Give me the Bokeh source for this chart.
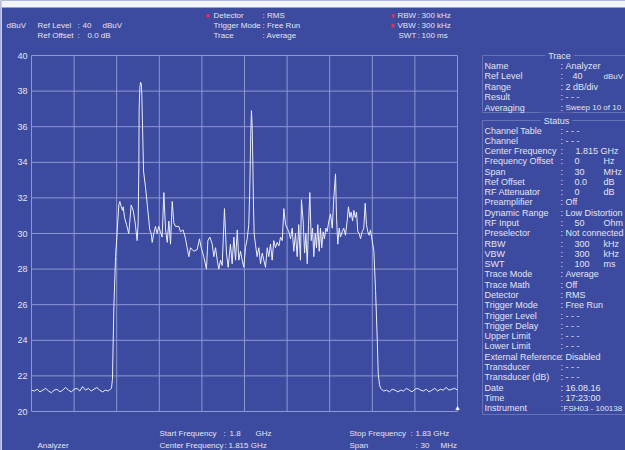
from bokeh.plotting import figure
from bokeh.models import Range1d, Label, PolyAnnotation
from bokeh.embed import file_html
from bokeh.resources import INLINE

# ---------------- measurement data ----------------
# noise floor below the channel (MHz, dBuV)
floor_lo_mhz = [1800.0, 1800.2, 1800.4, 1800.6, 1800.8, 1801.0, 1801.2, 1801.4, 1801.6, 1801.8,
                1802.0, 1802.2, 1802.4, 1802.6, 1802.8, 1803.0, 1803.2, 1803.4, 1803.6, 1803.8,
                1804.0, 1804.2, 1804.4, 1804.6, 1804.8, 1805.0, 1805.2, 1805.4]
floor_lo_dbuv = [21.2, 21.15, 21.25, 21.1, 21.2, 21.3, 21.15, 21.05, 21.2, 21.25,
                 21.1, 21.2, 21.35, 21.2, 21.1, 21.25, 21.3, 21.15, 21.4, 21.2,
                 21.3, 21.15, 21.25, 21.35, 21.2, 21.1, 21.2, 21.15]

# occupied channel (MHz, dBuV)
band_mhz = [1805.63, 1805.70, 1805.80, 1805.92, 1806.04, 1806.15, 1806.22, 1806.32, 1806.41, 1806.46,
            1806.55, 1806.69, 1806.85, 1807.02, 1807.16, 1807.30, 1807.44, 1807.51, 1807.56, 1807.58,
            1807.63, 1807.68, 1807.73, 1807.77, 1807.82, 1807.89, 1808.03, 1808.17, 1808.33, 1808.43,
            1808.50, 1808.61, 1808.73, 1808.85, 1808.96, 1809.08, 1809.20, 1809.32, 1809.44, 1809.56,
            1809.67, 1809.79, 1809.91, 1810.02, 1810.14, 1810.37, 1810.49, 1810.68, 1810.85, 1810.96,
            1811.08, 1811.20, 1811.32, 1811.43, 1811.67, 1811.83, 1811.95, 1812.13, 1812.32, 1812.42,
            1812.56, 1812.73, 1812.84, 1812.96, 1813.08, 1813.19, 1813.31, 1813.43, 1813.59, 1813.73,
            1813.85, 1814.01, 1814.13, 1814.25, 1814.37, 1814.49, 1814.60, 1814.72, 1814.84, 1814.95,
            1815.07, 1815.19, 1815.30, 1815.37, 1815.44, 1815.49, 1815.54, 1815.58, 1815.63, 1815.68,
            1815.77, 1815.89, 1816.01, 1816.13, 1816.25, 1816.36, 1816.48, 1816.60, 1816.71, 1816.83,
            1816.95, 1817.06, 1817.18, 1817.30, 1817.42, 1817.54, 1817.66, 1817.77, 1817.89, 1818.01,
            1818.12, 1818.24, 1818.36, 1818.47, 1818.59, 1818.71, 1818.82, 1818.94, 1819.01, 1819.13,
            1819.23, 1819.32, 1819.42, 1819.51, 1819.60, 1819.70, 1819.79, 1819.88, 1819.98, 1820.07,
            1820.16, 1820.26, 1820.35, 1820.44, 1820.54, 1820.63, 1820.73, 1820.82, 1820.94, 1821.06,
            1821.18, 1821.29, 1821.41, 1821.48, 1821.57, 1821.67, 1821.76, 1821.88, 1821.99, 1822.11,
            1822.23, 1822.32, 1822.42, 1822.51, 1822.61, 1822.70, 1822.80, 1822.89, 1822.98, 1823.08,
            1823.17, 1823.29, 1823.40, 1823.50, 1823.59, 1823.68, 1823.78, 1823.87, 1823.99, 1824.11,
            1824.23, 1824.35, 1824.42, 1824.51, 1824.58]
band_dbuv = [21.3, 21.8, 25.9, 28.7, 30.2, 31.6, 31.8, 31.5, 31.3, 31.5,
             30.9, 30.5, 30.0, 31.6, 31.3, 30.6, 29.6, 30.6, 33.7, 37.0,
             38.2, 38.5, 38.4, 37.8, 36.0, 33.5, 32.6, 31.5, 30.2, 30.0,
             29.5, 30.0, 30.4, 30.0, 30.4, 30.1, 29.8, 32.3, 30.2, 29.5,
             30.7, 29.4, 31.8, 30.6, 30.4, 30.4, 30.1, 30.2, 29.7, 29.2,
             28.7, 29.2, 29.1, 29.0, 29.1, 29.7, 29.2, 28.7, 28.0, 29.6,
             29.8, 29.4, 28.7, 29.2, 28.5, 28.0, 28.5, 28.2, 31.4, 28.9,
             28.1, 29.4, 28.3, 29.8, 28.5, 30.2, 28.5, 29.0, 28.5, 28.1,
             29.2, 29.7, 30.5, 32.4, 35.5, 36.9, 36.0, 34.3, 31.7, 30.0,
             29.4, 28.7, 29.2, 28.3, 28.9, 28.5, 28.1, 29.2, 28.7, 29.4,
             28.5, 29.6, 29.2, 29.5, 29.3, 29.8, 29.6, 31.4, 30.5, 30.3,
             30.1, 29.7, 30.3, 29.0, 30.0, 28.7, 30.5, 28.5, 31.9, 30.7,
             28.9, 30.0, 28.3, 30.5, 32.3, 29.6, 30.3, 28.7, 30.0, 29.2,
             30.5, 29.0, 30.3, 29.2, 30.1, 29.7, 30.3, 30.1, 30.7, 31.1,
             30.3, 32.0, 33.35, 30.9, 29.4, 30.3, 29.8, 30.1, 30.3, 29.9,
             30.7, 31.5, 30.9, 31.2, 30.7, 31.3, 30.9, 31.2, 30.1, 30.0,
             29.7, 30.1, 30.3, 31.7, 30.5, 30.1, 29.9, 30.2, 29.6, 29.0,
             26.8, 24.0, 22.1, 21.5, 21.3]

# noise floor above the channel (MHz, dBuV)
floor_hi_mhz = [1824.8, 1825.0, 1825.2, 1825.4, 1825.6, 1825.8, 1826.0, 1826.2, 1826.4, 1826.6,
                1826.8, 1827.0, 1827.2, 1827.4, 1827.6, 1827.8, 1828.0, 1828.2, 1828.4, 1828.6,
                1828.8, 1829.0, 1829.2, 1829.4, 1829.6, 1829.8, 1830.0]
floor_hi_dbuv = [21.15, 21.2, 21.1, 21.25, 21.2, 21.1, 21.2, 21.15, 21.3, 21.2,
                 21.1, 21.25, 21.3, 21.2, 21.15, 21.25, 21.1, 21.2, 21.3, 21.15,
                 21.25, 21.2, 21.35, 21.2, 21.25, 21.3, 21.2]

freq_mhz = floor_lo_mhz + band_mhz + floor_hi_mhz
level_dbuv = floor_lo_dbuv + band_dbuv + floor_hi_dbuv

level_ticks = [20, 22, 24, 26, 28, 30, 32, 34, 36, 38, 40]
freq_grid_mhz = [1800, 1803, 1806, 1809, 1812, 1815, 1818, 1821, 1824, 1827, 1830]
start_mhz, stop_mhz = 1800, 1830
ref_low, ref_high = 20, 40

trace_rows = [("Name", "Analyzer", ""), ("Ref Level", "40", "dBuV"), ("Range", "2 dB/div", ""),
              ("Result", "- - -", ""), ("Averaging", "Sweep 10 of 10", "")]
status_rows = [("Channel Table", "- - -", ""), ("Channel", "- - -", ""),
               ("Center Frequency", "1.815 GHz", ""), ("Frequency Offset", "0", "Hz"),
               ("Span", "30", "MHz"), ("Ref Offset", "0.0", "dB"), ("RF Attenuator", "0", "dB"),
               ("Preamplifier", "Off", ""), ("Dynamic Range", "Low Distortion", ""),
               ("RF Input", "50", "Ohm"), ("Preselector", "Not connected", ""),
               ("RBW", "300", "kHz"), ("VBW", "300", "kHz"), ("SWT", "100", "ms"),
               ("Trace Mode", "Average", ""), ("Trace Math", " Off", ""), ("Detector", "RMS", ""),
               ("Trigger Mode", "Free Run", ""), ("Trigger Level", "- - -", ""),
               ("Trigger Delay", "- - -", ""), ("Upper Limit", "- - -", ""),
               ("Lower Limit", "- - -", ""), ("External Reference", "Disabled", ""),
               ("Transducer", "- - -", ""), ("Transducer (dB)", "- - -", ""),
               ("Date", "16.08.16", ""), ("Time", "17:23:00", ""),
               ("Instrument", "FSH03 - 100138", "")]

# ---------------- styling ----------------
BG = "#3c4a9f"
TXT = "#e2e5f4"
GRID = "#8f97d2"
BOX = "#c9cdea"
TRACE = "#eceef8"
FONT = "Liberation Sans"
FS = "9px"
HFS = "8px"

# The frame fills the whole screen; the ranges are sized so that the
# measurement window (1.8-1.83 GHz, 20-40 dBuV) sits where the analyzer
# draws it, leaving room for the header, footer and status panel.
PX_PER_MHZ = 14.2
PX_PER_DB = 17.8
x_range = Range1d(start_mhz - 31 / PX_PER_MHZ, stop_mhz + 168 / PX_PER_MHZ)
y_range = Range1d(ref_low - 39 / PX_PER_DB, ref_high + 55 / PX_PER_DB)

p = figure(width=625, height=450, output_backend="svg", toolbar_location=None,
           title=None, x_range=x_range, y_range=y_range,
           x_axis_type=None, y_axis_type=None, min_border=0)
p.background_fill_color = BG
p.border_fill_color = BG
p.outline_line_color = None

# graticule
n_v = len(freq_grid_mhz)
n_h = len(level_ticks)
p.segment(x0=freq_grid_mhz, y0=[ref_low] * n_v, x1=freq_grid_mhz, y1=[ref_high] * n_v,
          line_color=GRID, line_width=1)
p.segment(x0=[start_mhz] * n_h, y0=level_ticks, x1=[stop_mhz] * n_h, y1=level_ticks,
          line_color=GRID, line_width=1)

# measured trace
p.line(freq_mhz, level_dbuv, line_color=TRACE, line_width=1)


def put(text, x, y, color=TXT, size=FS, align="left", bg=None, pad=0,
        xu="canvas", yu="canvas"):
    p.add_layout(Label(x=x, y=y, x_units=xu, y_units=yu, text=text,
                       text_color=color, text_font=FONT, text_font_size=size,
                       text_align=align, text_baseline="middle",
                       background_fill_color=bg, padding=pad))


def hput(text, x, y, **kw):
    put(text, x, y, size=HFS, **kw)


def frame_box(x0, y0, x1, y1, color):
    p.add_layout(PolyAnnotation(xs=[x0, x1, x1, x0], ys=[y0, y0, y1, y1],
                                xs_units="canvas", ys_units="canvas",
                                fill_alpha=0, line_color=color, line_width=1))


# level scale labels
for t in level_ticks:
    put(str(t), 27, t, align="right", yu="data")

# light strips along the top and left edges of the screen capture
p.add_layout(PolyAnnotation(xs=[0, 625, 625, 0], ys=[0, 0, 7, 7], xs_units="canvas",
                            ys_units="canvas", fill_color="#f4f5fa", fill_alpha=1,
                            line_alpha=0))
p.add_layout(PolyAnnotation(xs=[0, 1.5, 1.5, 0], ys=[0, 0, 450, 450], xs_units="canvas",
                            ys_units="canvas", fill_color="#c9cdea", fill_alpha=1,
                            line_alpha=0))

# header: reference level block
hput("dBuV", 6, 25)
hput("Ref Level", 37, 25); hput(":", 77, 25); hput("40", 82, 25); hput("dBuV", 102, 25)
hput("Ref Offset", 37, 35); hput(":", 77, 35); hput("0.0 dB", 87, 35)

# header: detector block
put("\u25cf", 207, 15, color="#ee2a4a", size="8px", align="center")
hput("Detector", 213, 15); hput(": RMS", 262, 15)
hput("Trigger Mode", 213, 25); hput(": Free Run", 262, 25)
hput("Trace", 213, 35); hput(": Average", 262, 35)

# header: bandwidth block
put("\u25cf", 392, 15, color="#ee2a4a", size="8px", align="center")
put("\u25cf", 392, 25, color="#ee2a4a", size="8px", align="center")
hput("RBW", 397, 15); hput(":", 417, 15); hput("300 kHz", 421, 15)
hput("VBW", 397, 25); hput(":", 417, 25); hput("300 kHz", 421, 25)
hput("SWT", 398, 35); hput(":", 417, 35); hput("100 ms", 421, 35)

# footer
hput("Analyzer", 37, 445)
hput("Start Frequency", 159, 433); hput(":", 223, 433); hput("1.8", 229, 433); hput("GHz", 255, 433)
hput("Center Frequency", 159, 445); hput(":", 224, 445); hput("1.815 GHz", 228, 445)
hput("Stop Frequency", 349, 433); hput(":", 410, 433); hput("1.83 GHz", 415, 433)
hput("Span", 349, 445); hput(":", 415, 445); hput("30", 420, 445); hput("MHz", 440, 445)

# span marker at the stop frequency
put("\u25b2", stop_mhz, 407, color="#ffffff", size="7px", align="center", xu="data")

# side panel: trace box
frame_box(482, 55, 640, 112, BOX)
put("Trace", 559, 55, align="center", bg=BG, pad=3)
for i, (name, val, unit) in enumerate(trace_rows):
    y = 65 + 10.5 * i
    put(name, 484, y)
    put(":", 560, y)
    if unit:
        put(val, 572, y); put(unit, 603, y, size="8px")
    elif name == "Averaging":
        put(val, 565, y, size="8px")
    else:
        put(val, 565, y)

# side panel: status box
frame_box(482, 120, 640, 414, BOX)
put("Status", 556, 120, align="center", bg=BG, pad=3)
for i, (name, val, unit) in enumerate(status_rows):
    y = 130 + 10.28 * i
    put(name, 484, y)
    put(":", 560, y)
    if unit:
        put(val, 574, y); put(unit, 603, y)
    elif name == "Center Frequency":
        put(val, 575, y)
    elif name == "Instrument":
        put(val, 563, y, size="8px")
    else:
        put(val, 565, y)

open("out.html", "w").write(file_html(p, INLINE))
